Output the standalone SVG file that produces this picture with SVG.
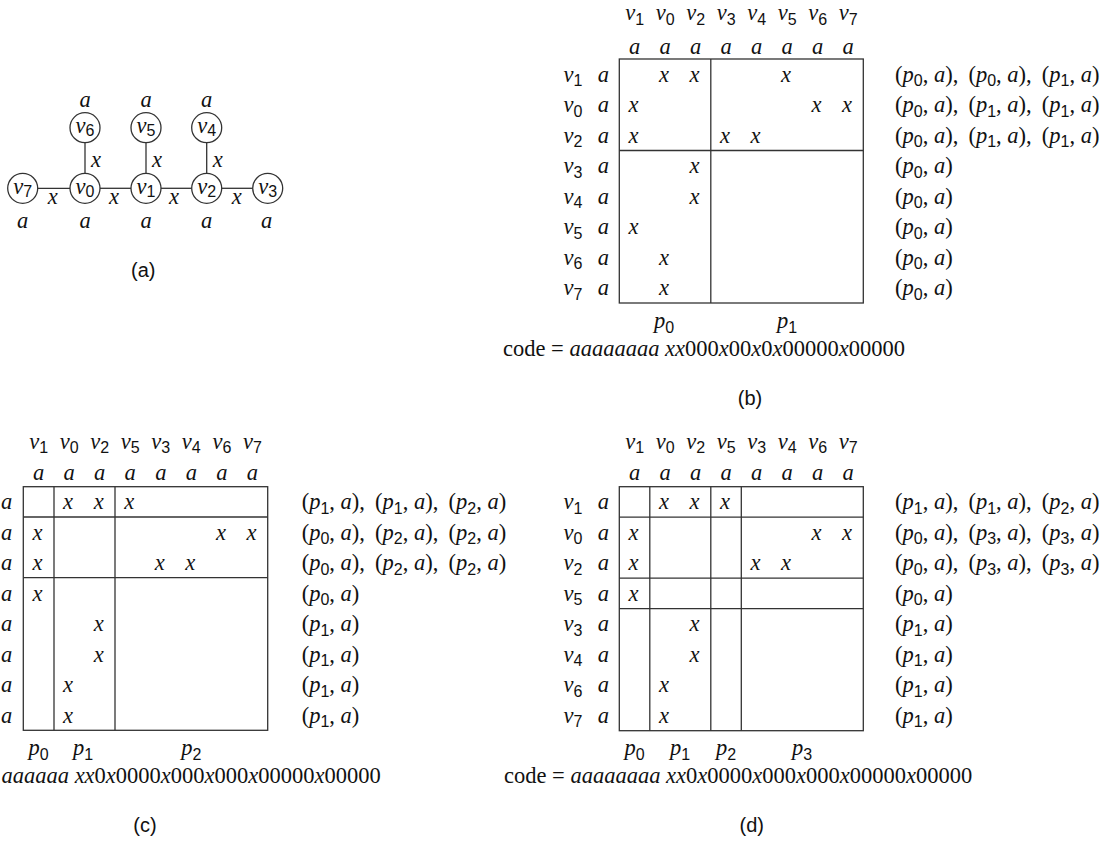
<svg xmlns="http://www.w3.org/2000/svg" width="1102" height="843" viewBox="0 0 1102 843">
<style>
text { font-family: "Liberation Serif", "Times New Roman", serif; font-size: 22.5px; fill: #111; }
.i { font-style: italic; }
.sb { font-family: "Liberation Sans", Arial, sans-serif; font-style: normal; font-size: 16px; }
.c { text-anchor: middle; }
.cap { font-family: "Liberation Sans", Arial, sans-serif; font-size: 20px; text-anchor: middle; }
.node circle { fill: #fff; stroke: #333; stroke-width: 1.3; }
.grid { fill: none; stroke: #333; stroke-width: 1.3; }
</style>
<rect width="1102" height="843" fill="#fff"/>

<!-- (a) graph -->
<g id="connectors" stroke="#333" stroke-width="1.3" fill="none">
  <line x1="85" y1="142.7" x2="85" y2="173.3"/>
  <line x1="146" y1="142.7" x2="146" y2="173.3"/>
  <line x1="206.7" y1="142.7" x2="206.7" y2="173.3"/>
  <line x1="37.7" y1="188.3" x2="70" y2="188.3"/>
  <line x1="100" y1="188.3" x2="131" y2="188.3"/>
  <line x1="161" y1="188.3" x2="191.7" y2="188.3"/>
  <line x1="221.7" y1="188.3" x2="252.7" y2="188.3"/>
</g>
<g id="edge-labels">
  <text class="i c" x="96" y="166.5">x</text>
  <text class="i c" x="157" y="166.5">x</text>
  <text class="i c" x="217.7" y="166.5">x</text>
  <text class="i c" x="52.7" y="204">x</text>
  <text class="i c" x="114" y="204">x</text>
  <text class="i c" x="174" y="204">x</text>
  <text class="i c" x="236.7" y="204">x</text>
</g>
<g id="v6" class="node"><circle cx="85" cy="127.7" r="15"/><text class="i c" x="85" y="133">v<tspan class="sb" dy="3">6</tspan></text><text class="i c" x="85" y="106.5">a</text></g>
<g id="v5" class="node"><circle cx="146" cy="127.7" r="15"/><text class="i c" x="146" y="133">v<tspan class="sb" dy="3">5</tspan></text><text class="i c" x="146" y="106.5">a</text></g>
<g id="v4" class="node"><circle cx="206.7" cy="127.7" r="15"/><text class="i c" x="206.7" y="133">v<tspan class="sb" dy="3">4</tspan></text><text class="i c" x="206.7" y="106.5">a</text></g>
<g id="v7" class="node"><circle cx="22.7" cy="188.3" r="15"/><text class="i c" x="22.7" y="193.6">v<tspan class="sb" dy="3">7</tspan></text><text class="i c" x="22.7" y="228">a</text></g>
<g id="v0" class="node"><circle cx="85" cy="188.3" r="15"/><text class="i c" x="85" y="193.6">v<tspan class="sb" dy="3">0</tspan></text><text class="i c" x="85" y="228">a</text></g>
<g id="v1" class="node"><circle cx="146" cy="188.3" r="15"/><text class="i c" x="146" y="193.6">v<tspan class="sb" dy="3">1</tspan></text><text class="i c" x="146" y="228">a</text></g>
<g id="v2" class="node"><circle cx="206.7" cy="188.3" r="15"/><text class="i c" x="206.7" y="193.6">v<tspan class="sb" dy="3">2</tspan></text><text class="i c" x="206.7" y="228">a</text></g>
<g id="v3" class="node"><circle cx="267.7" cy="188.3" r="15"/><text class="i c" x="267.7" y="193.6">v<tspan class="sb" dy="3">3</tspan></text><text class="i c" x="266.7" y="228">a</text></g>
<text class="cap" x="143.3" y="277">(a)</text>

<!-- (b) matrix -->
<g id="panel-b">
  <g class="i c">
    <text x="634.6" y="20">v<tspan class="sb" dy="4.5">1</tspan></text>
    <text x="665.1" y="20">v<tspan class="sb" dy="4.5">0</tspan></text>
    <text x="695.6" y="20">v<tspan class="sb" dy="4.5">2</tspan></text>
    <text x="726.1" y="20">v<tspan class="sb" dy="4.5">3</tspan></text>
    <text x="756.6" y="20">v<tspan class="sb" dy="4.5">4</tspan></text>
    <text x="787.1" y="20">v<tspan class="sb" dy="4.5">5</tspan></text>
    <text x="817.6" y="20">v<tspan class="sb" dy="4.5">6</tspan></text>
    <text x="848.1" y="20">v<tspan class="sb" dy="4.5">7</tspan></text>
    <text x="634.6" y="53.5">a</text><text x="665.1" y="53.5">a</text><text x="695.6" y="53.5">a</text><text x="726.1" y="53.5">a</text>
    <text x="756.6" y="53.5">a</text><text x="787.1" y="53.5">a</text><text x="817.6" y="53.5">a</text><text x="848.1" y="53.5">a</text>
    <text x="573" y="81.8">v<tspan class="sb" dy="4.5">1</tspan></text>
    <text x="573" y="112.3">v<tspan class="sb" dy="4.5">0</tspan></text>
    <text x="573" y="142.8">v<tspan class="sb" dy="4.5">2</tspan></text>
    <text x="573" y="173.3">v<tspan class="sb" dy="4.5">3</tspan></text>
    <text x="573" y="203.8">v<tspan class="sb" dy="4.5">4</tspan></text>
    <text x="573" y="234.3">v<tspan class="sb" dy="4.5">5</tspan></text>
    <text x="573" y="264.8">v<tspan class="sb" dy="4.5">6</tspan></text>
    <text x="573" y="295.3">v<tspan class="sb" dy="4.5">7</tspan></text>
    <text x="603.3" y="81.8">a</text><text x="603.3" y="112.3">a</text><text x="603.3" y="142.8">a</text><text x="603.3" y="173.3">a</text>
    <text x="603.3" y="203.8">a</text><text x="603.3" y="234.3">a</text><text x="603.3" y="264.8">a</text><text x="603.3" y="295.3">a</text>
    <text x="664" y="81.8">x</text><text x="694.6" y="81.8">x</text><text x="786.1" y="81.8">x</text>
    <text x="633.6" y="112.3">x</text><text x="816.6" y="112.3">x</text><text x="847.1" y="112.3">x</text>
    <text x="633.6" y="142.8">x</text><text x="725.1" y="142.8">x</text><text x="755.6" y="142.8">x</text>
    <text x="694.6" y="173.3">x</text>
    <text x="694.6" y="203.8">x</text>
    <text x="633.6" y="234.3">x</text>
    <text x="664" y="264.8">x</text>
    <text x="664" y="295.3">x</text>
    <text x="664" y="328">p<tspan class="sb" dy="4.5">0</tspan></text>
    <text x="787" y="328">p<tspan class="sb" dy="4.5">1</tspan></text>
  </g>
  <rect class="grid" x="619.3" y="59" width="244" height="244"/>
  <line class="grid" x1="710.8" y1="59" x2="710.8" y2="303"/>
  <line class="grid" x1="619.3" y1="150.5" x2="863.3" y2="150.5"/>
  <g>
    <text x="895" y="81.8">(<tspan class="i">p</tspan><tspan class="sb" dy="4.5">0</tspan><tspan dy="-4.5">, </tspan><tspan class="i">a</tspan>),&#160;&#8201;(<tspan class="i">p</tspan><tspan class="sb" dy="4.5">0</tspan><tspan dy="-4.5">, </tspan><tspan class="i">a</tspan>),&#160;&#8201;(<tspan class="i">p</tspan><tspan class="sb" dy="4.5">1</tspan><tspan dy="-4.5">, </tspan><tspan class="i">a</tspan>)</text>
    <text x="895" y="112.3">(<tspan class="i">p</tspan><tspan class="sb" dy="4.5">0</tspan><tspan dy="-4.5">, </tspan><tspan class="i">a</tspan>),&#160;&#8201;(<tspan class="i">p</tspan><tspan class="sb" dy="4.5">1</tspan><tspan dy="-4.5">, </tspan><tspan class="i">a</tspan>),&#160;&#8201;(<tspan class="i">p</tspan><tspan class="sb" dy="4.5">1</tspan><tspan dy="-4.5">, </tspan><tspan class="i">a</tspan>)</text>
    <text x="895" y="142.8">(<tspan class="i">p</tspan><tspan class="sb" dy="4.5">0</tspan><tspan dy="-4.5">, </tspan><tspan class="i">a</tspan>),&#160;&#8201;(<tspan class="i">p</tspan><tspan class="sb" dy="4.5">1</tspan><tspan dy="-4.5">, </tspan><tspan class="i">a</tspan>),&#160;&#8201;(<tspan class="i">p</tspan><tspan class="sb" dy="4.5">1</tspan><tspan dy="-4.5">, </tspan><tspan class="i">a</tspan>)</text>
    <text x="895" y="173.3">(<tspan class="i">p</tspan><tspan class="sb" dy="4.5">0</tspan><tspan dy="-4.5">, </tspan><tspan class="i">a</tspan>)</text>
    <text x="895" y="203.8">(<tspan class="i">p</tspan><tspan class="sb" dy="4.5">0</tspan><tspan dy="-4.5">, </tspan><tspan class="i">a</tspan>)</text>
    <text x="895" y="234.3">(<tspan class="i">p</tspan><tspan class="sb" dy="4.5">0</tspan><tspan dy="-4.5">, </tspan><tspan class="i">a</tspan>)</text>
    <text x="895" y="264.8">(<tspan class="i">p</tspan><tspan class="sb" dy="4.5">0</tspan><tspan dy="-4.5">, </tspan><tspan class="i">a</tspan>)</text>
    <text x="895" y="295.3">(<tspan class="i">p</tspan><tspan class="sb" dy="4.5">0</tspan><tspan dy="-4.5">, </tspan><tspan class="i">a</tspan>)</text>
  </g>
  <text x="503" y="356">code = <tspan class="i">aaaaaaaa xx</tspan>000<tspan class="i">x</tspan>00<tspan class="i">x</tspan>0<tspan class="i">x</tspan>00000<tspan class="i">x</tspan>00000</text>
  <text class="cap" x="750" y="405">(b)</text>
</g>

<!-- (c) matrix -->
<g id="panel-c">
  <g class="i c">
    <text x="38.6" y="448.5">v<tspan class="sb" dy="4.5">1</tspan></text>
    <text x="69.1" y="448.5">v<tspan class="sb" dy="4.5">0</tspan></text>
    <text x="99.7" y="448.5">v<tspan class="sb" dy="4.5">2</tspan></text>
    <text x="130.2" y="448.5">v<tspan class="sb" dy="4.5">5</tspan></text>
    <text x="160.8" y="448.5">v<tspan class="sb" dy="4.5">3</tspan></text>
    <text x="191.3" y="448.5">v<tspan class="sb" dy="4.5">4</tspan></text>
    <text x="221.9" y="448.5">v<tspan class="sb" dy="4.5">6</tspan></text>
    <text x="252.4" y="448.5">v<tspan class="sb" dy="4.5">7</tspan></text>
    <text x="38.6" y="480">a</text><text x="69.1" y="480">a</text><text x="99.7" y="480">a</text><text x="130.2" y="480">a</text>
    <text x="160.8" y="480">a</text><text x="191.3" y="480">a</text><text x="221.9" y="480">a</text><text x="252.4" y="480">a</text>
    <text x="6.7" y="509.4">a</text><text x="6.7" y="539.9">a</text><text x="6.7" y="570.3">a</text><text x="6.7" y="600.8">a</text>
    <text x="6.7" y="631.2">a</text><text x="6.7" y="661.7">a</text><text x="6.7" y="692.1">a</text><text x="6.7" y="722.6">a</text>
    <text x="68.1" y="509.4">x</text><text x="98.7" y="509.4">x</text><text x="129.2" y="509.4">x</text>
    <text x="37.6" y="539.9">x</text><text x="220.9" y="539.9">x</text><text x="251.4" y="539.9">x</text>
    <text x="37.6" y="570.3">x</text><text x="159.8" y="570.3">x</text><text x="190.3" y="570.3">x</text>
    <text x="37.6" y="600.8">x</text>
    <text x="98.7" y="631.2">x</text>
    <text x="98.7" y="661.7">x</text>
    <text x="68.1" y="692.1">x</text>
    <text x="68.1" y="722.6">x</text>
    <text x="38.7" y="755">p<tspan class="sb" dy="4.5">0</tspan></text>
    <text x="83" y="755">p<tspan class="sb" dy="4.5">1</tspan></text>
    <text x="191.3" y="755">p<tspan class="sb" dy="4.5">2</tspan></text>
  </g>
  <rect class="grid" x="23.3" y="486.7" width="244.4" height="243.6"/>
  <line class="grid" x1="54" y1="486.7" x2="54" y2="730.3"/>
  <line class="grid" x1="115" y1="486.7" x2="115" y2="730.3"/>
  <line class="grid" x1="23.3" y1="517" x2="267.7" y2="517"/>
  <line class="grid" x1="23.3" y1="577.7" x2="267.7" y2="577.7"/>
  <g>
    <text x="301.7" y="509.4">(<tspan class="i">p</tspan><tspan class="sb" dy="4.5">1</tspan><tspan dy="-4.5">, </tspan><tspan class="i">a</tspan>),&#160;&#8201;(<tspan class="i">p</tspan><tspan class="sb" dy="4.5">1</tspan><tspan dy="-4.5">, </tspan><tspan class="i">a</tspan>),&#160;&#8201;(<tspan class="i">p</tspan><tspan class="sb" dy="4.5">2</tspan><tspan dy="-4.5">, </tspan><tspan class="i">a</tspan>)</text>
    <text x="301.7" y="539.9">(<tspan class="i">p</tspan><tspan class="sb" dy="4.5">0</tspan><tspan dy="-4.5">, </tspan><tspan class="i">a</tspan>),&#160;&#8201;(<tspan class="i">p</tspan><tspan class="sb" dy="4.5">2</tspan><tspan dy="-4.5">, </tspan><tspan class="i">a</tspan>),&#160;&#8201;(<tspan class="i">p</tspan><tspan class="sb" dy="4.5">2</tspan><tspan dy="-4.5">, </tspan><tspan class="i">a</tspan>)</text>
    <text x="301.7" y="570.3">(<tspan class="i">p</tspan><tspan class="sb" dy="4.5">0</tspan><tspan dy="-4.5">, </tspan><tspan class="i">a</tspan>),&#160;&#8201;(<tspan class="i">p</tspan><tspan class="sb" dy="4.5">2</tspan><tspan dy="-4.5">, </tspan><tspan class="i">a</tspan>),&#160;&#8201;(<tspan class="i">p</tspan><tspan class="sb" dy="4.5">2</tspan><tspan dy="-4.5">, </tspan><tspan class="i">a</tspan>)</text>
    <text x="301.7" y="600.8">(<tspan class="i">p</tspan><tspan class="sb" dy="4.5">0</tspan><tspan dy="-4.5">, </tspan><tspan class="i">a</tspan>)</text>
    <text x="301.7" y="631.2">(<tspan class="i">p</tspan><tspan class="sb" dy="4.5">1</tspan><tspan dy="-4.5">, </tspan><tspan class="i">a</tspan>)</text>
    <text x="301.7" y="661.7">(<tspan class="i">p</tspan><tspan class="sb" dy="4.5">1</tspan><tspan dy="-4.5">, </tspan><tspan class="i">a</tspan>)</text>
    <text x="301.7" y="692.1">(<tspan class="i">p</tspan><tspan class="sb" dy="4.5">1</tspan><tspan dy="-4.5">, </tspan><tspan class="i">a</tspan>)</text>
    <text x="301.7" y="722.6">(<tspan class="i">p</tspan><tspan class="sb" dy="4.5">1</tspan><tspan dy="-4.5">, </tspan><tspan class="i">a</tspan>)</text>
  </g>
  <text x="1.5" y="783"><tspan class="i">aaaaaa xx</tspan>0<tspan class="i">x</tspan>0000<tspan class="i">x</tspan>000<tspan class="i">x</tspan>000<tspan class="i">x</tspan>00000<tspan class="i">x</tspan>00000</text>
  <text class="cap" x="145" y="832">(c)</text>
</g>

<!-- (d) matrix -->
<g id="panel-d">
  <g class="i c">
    <text x="634.6" y="448.5">v<tspan class="sb" dy="4.5">1</tspan></text>
    <text x="665.1" y="448.5">v<tspan class="sb" dy="4.5">0</tspan></text>
    <text x="695.6" y="448.5">v<tspan class="sb" dy="4.5">2</tspan></text>
    <text x="726.1" y="448.5">v<tspan class="sb" dy="4.5">5</tspan></text>
    <text x="756.6" y="448.5">v<tspan class="sb" dy="4.5">3</tspan></text>
    <text x="787.1" y="448.5">v<tspan class="sb" dy="4.5">4</tspan></text>
    <text x="817.6" y="448.5">v<tspan class="sb" dy="4.5">6</tspan></text>
    <text x="848.1" y="448.5">v<tspan class="sb" dy="4.5">7</tspan></text>
    <text x="634.6" y="480">a</text><text x="665.1" y="480">a</text><text x="695.6" y="480">a</text><text x="726.1" y="480">a</text>
    <text x="756.6" y="480">a</text><text x="787.1" y="480">a</text><text x="817.6" y="480">a</text><text x="848.1" y="480">a</text>
    <text x="573" y="509.4">v<tspan class="sb" dy="4.5">1</tspan></text>
    <text x="573" y="539.9">v<tspan class="sb" dy="4.5">0</tspan></text>
    <text x="573" y="570.3">v<tspan class="sb" dy="4.5">2</tspan></text>
    <text x="573" y="600.8">v<tspan class="sb" dy="4.5">5</tspan></text>
    <text x="573" y="631.2">v<tspan class="sb" dy="4.5">3</tspan></text>
    <text x="573" y="661.7">v<tspan class="sb" dy="4.5">4</tspan></text>
    <text x="573" y="692.1">v<tspan class="sb" dy="4.5">6</tspan></text>
    <text x="573" y="722.6">v<tspan class="sb" dy="4.5">7</tspan></text>
    <text x="603.3" y="509.4">a</text><text x="603.3" y="539.9">a</text><text x="603.3" y="570.3">a</text><text x="603.3" y="600.8">a</text>
    <text x="603.3" y="631.2">a</text><text x="603.3" y="661.7">a</text><text x="603.3" y="692.1">a</text><text x="603.3" y="722.6">a</text>
    <text x="664.1" y="509.4">x</text><text x="694.6" y="509.4">x</text><text x="725.1" y="509.4">x</text>
    <text x="633.6" y="539.9">x</text><text x="816.6" y="539.9">x</text><text x="847.1" y="539.9">x</text>
    <text x="633.6" y="570.3">x</text><text x="755.6" y="570.3">x</text><text x="786.1" y="570.3">x</text>
    <text x="633.6" y="600.8">x</text>
    <text x="694.6" y="631.2">x</text>
    <text x="694.6" y="661.7">x</text>
    <text x="664.1" y="692.1">x</text>
    <text x="664.1" y="722.6">x</text>
    <text x="634.5" y="755">p<tspan class="sb" dy="4.5">0</tspan></text>
    <text x="680" y="755">p<tspan class="sb" dy="4.5">1</tspan></text>
    <text x="726" y="755">p<tspan class="sb" dy="4.5">2</tspan></text>
    <text x="802" y="755">p<tspan class="sb" dy="4.5">3</tspan></text>
  </g>
  <rect class="grid" x="619.3" y="486.7" width="244" height="244"/>
  <line class="grid" x1="649.8" y1="486.7" x2="649.8" y2="730.7"/>
  <line class="grid" x1="710.8" y1="486.7" x2="710.8" y2="730.7"/>
  <line class="grid" x1="741.3" y1="486.7" x2="741.3" y2="730.7"/>
  <line class="grid" x1="619.3" y1="517.2" x2="863.3" y2="517.2"/>
  <line class="grid" x1="619.3" y1="578.2" x2="863.3" y2="578.2"/>
  <line class="grid" x1="619.3" y1="608.7" x2="863.3" y2="608.7"/>
  <g>
    <text x="895" y="509.4">(<tspan class="i">p</tspan><tspan class="sb" dy="4.5">1</tspan><tspan dy="-4.5">, </tspan><tspan class="i">a</tspan>),&#160;&#8201;(<tspan class="i">p</tspan><tspan class="sb" dy="4.5">1</tspan><tspan dy="-4.5">, </tspan><tspan class="i">a</tspan>),&#160;&#8201;(<tspan class="i">p</tspan><tspan class="sb" dy="4.5">2</tspan><tspan dy="-4.5">, </tspan><tspan class="i">a</tspan>)</text>
    <text x="895" y="539.9">(<tspan class="i">p</tspan><tspan class="sb" dy="4.5">0</tspan><tspan dy="-4.5">, </tspan><tspan class="i">a</tspan>),&#160;&#8201;(<tspan class="i">p</tspan><tspan class="sb" dy="4.5">3</tspan><tspan dy="-4.5">, </tspan><tspan class="i">a</tspan>),&#160;&#8201;(<tspan class="i">p</tspan><tspan class="sb" dy="4.5">3</tspan><tspan dy="-4.5">, </tspan><tspan class="i">a</tspan>)</text>
    <text x="895" y="570.3">(<tspan class="i">p</tspan><tspan class="sb" dy="4.5">0</tspan><tspan dy="-4.5">, </tspan><tspan class="i">a</tspan>),&#160;&#8201;(<tspan class="i">p</tspan><tspan class="sb" dy="4.5">3</tspan><tspan dy="-4.5">, </tspan><tspan class="i">a</tspan>),&#160;&#8201;(<tspan class="i">p</tspan><tspan class="sb" dy="4.5">3</tspan><tspan dy="-4.5">, </tspan><tspan class="i">a</tspan>)</text>
    <text x="895" y="600.8">(<tspan class="i">p</tspan><tspan class="sb" dy="4.5">0</tspan><tspan dy="-4.5">, </tspan><tspan class="i">a</tspan>)</text>
    <text x="895" y="631.2">(<tspan class="i">p</tspan><tspan class="sb" dy="4.5">1</tspan><tspan dy="-4.5">, </tspan><tspan class="i">a</tspan>)</text>
    <text x="895" y="661.7">(<tspan class="i">p</tspan><tspan class="sb" dy="4.5">1</tspan><tspan dy="-4.5">, </tspan><tspan class="i">a</tspan>)</text>
    <text x="895" y="692.1">(<tspan class="i">p</tspan><tspan class="sb" dy="4.5">1</tspan><tspan dy="-4.5">, </tspan><tspan class="i">a</tspan>)</text>
    <text x="895" y="722.6">(<tspan class="i">p</tspan><tspan class="sb" dy="4.5">1</tspan><tspan dy="-4.5">, </tspan><tspan class="i">a</tspan>)</text>
  </g>
  <text x="504" y="783">code = <tspan class="i">aaaaaaaa xx</tspan>0<tspan class="i">x</tspan>0000<tspan class="i">x</tspan>000<tspan class="i">x</tspan>000<tspan class="i">x</tspan>00000<tspan class="i">x</tspan>00000</text>
  <text class="cap" x="751.7" y="832">(d)</text>
</g>
</svg>
